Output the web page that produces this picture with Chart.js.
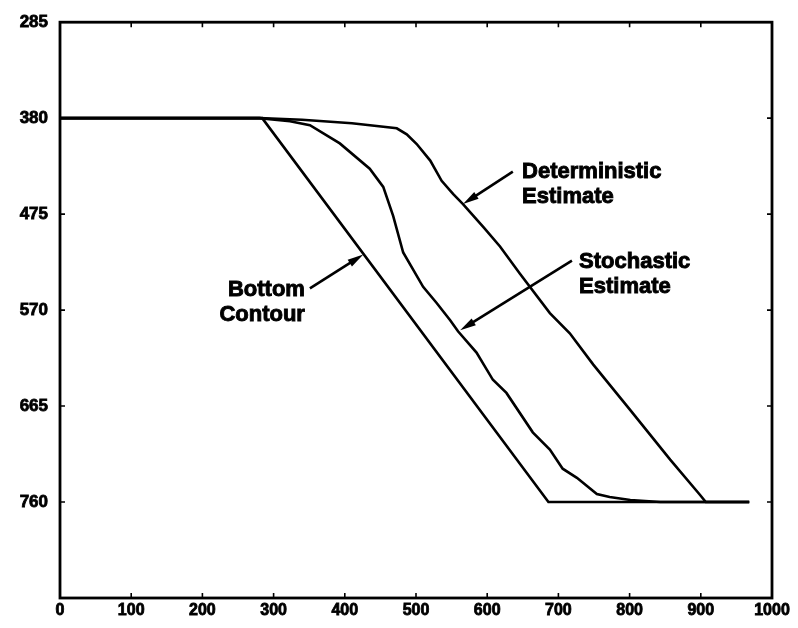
<!DOCTYPE html>
<html>
<head>
<meta charset="utf-8">
<script src="https://cdn.jsdelivr.net/npm/chart.js@4.4.1/dist/chart.umd.min.js"></script>
<style>
  html, body { margin: 0; padding: 0; background: #fff; }
  canvas { display: block; }
</style>
</head>
<body>
<canvas id="c" width="798" height="628"></canvas>
<script>
// Axis ticks
const xTickValues = [0, 100, 200, 300, 400, 500, 600, 700, 800, 900, 1000];
const yTickValues = [285, 380, 475, 570, 665, 760, 855];
const yTickLabels = ['285', '380', '475', '570', '665', '760', ''];

// Bottom contour
const bottomX = [0, 284, 686, 968];
const bottomY = [380, 380, 760, 760];

// Deterministic estimate
const detX = [0, 280, 340, 410, 473, 487, 501, 520, 536, 552, 566, 595, 618, 646, 688, 716, 749, 801, 857, 899, 907, 968];
const detY = [380, 380, 381.5, 385, 390, 396, 405.6, 422, 442, 455, 465, 488, 507, 534, 573, 593, 624, 669, 718, 753, 760, 760];

// Stochastic estimate
const stoX = [0, 280, 323, 351, 393, 435, 454, 468, 482, 510, 529, 548, 559, 585, 608, 627, 664, 688, 706, 726, 754, 772, 801, 843, 968];
const stoY = [380, 380, 383, 387, 405, 430, 448, 477, 513, 547, 563, 580, 591, 612, 639, 652, 691, 708, 727, 736, 752, 755, 758, 760, 760];

// Callouts (data coordinates)
const noteLines = [['Deterministic', 'Estimate'], ['Stochastic', 'Estimate'], ['Bottom', 'Contour']];
const noteX = [649, 729, 344];
const noteY = [433, 522, 550];
const noteAlign = ['left', 'left', 'right'];
const arrowFromX = [636, 719, 351];
const arrowFromY = [433, 521, 548.5];
const arrowToX = [566, 562, 426];
const arrowToY = [465, 590, 515];

const FONT = '"Liberation Sans", Arial, Helvetica, sans-serif';

function pts(xs, ys) {
    return xs.map((x, i) => ({ x: x, y: ys[i] }));
}

function lineSet(label, xs, ys) {
    return {
        label: label,
        data: pts(xs, ys),
        borderColor: '#000',
        borderWidth: 2.6,
        pointRadius: 0,
        tension: 0,
        showLine: true,
        fill: false
    };
}

function drawArrow(ctx, x1, y1, x2, y2) {
    const ang = Math.atan2(y2 - y1, x2 - x1);
    const len = 16, half = 4;
    ctx.beginPath();
    ctx.moveTo(x1, y1);
    ctx.lineTo(x2 - Math.cos(ang) * len * 0.6, y2 - Math.sin(ang) * len * 0.6);
    ctx.stroke();
    ctx.beginPath();
    ctx.moveTo(x2, y2);
    ctx.lineTo(x2 - Math.cos(ang) * len + Math.sin(ang) * half, y2 - Math.sin(ang) * len - Math.cos(ang) * half);
    ctx.lineTo(x2 - Math.cos(ang) * len - Math.sin(ang) * half, y2 - Math.sin(ang) * len + Math.cos(ang) * half);
    ctx.closePath();
    ctx.fill();
}

// frame, inward ticks and callouts
const framePlugin = {
    id: 'frame',
    afterDraw(chart) {
        const { ctx, chartArea: a, scales: { x, y } } = chart;
        ctx.save();
        ctx.strokeStyle = '#000';
        ctx.fillStyle = '#000';
        ctx.lineWidth = 2.8;
        ctx.strokeRect(a.left, a.top, a.right - a.left, a.bottom - a.top);

        ctx.lineWidth = 1.6;
        ctx.beginPath();
        xTickValues.slice(1, -1).forEach(v => {
            const px = x.getPixelForValue(v);
            ctx.moveTo(px, a.bottom); ctx.lineTo(px, a.bottom - 5);
            ctx.moveTo(px, a.top); ctx.lineTo(px, a.top + 5);
        });
        yTickValues.slice(1, -1).forEach(v => {
            const py = y.getPixelForValue(v);
            ctx.moveTo(a.left, py); ctx.lineTo(a.left + 5, py);
            ctx.moveTo(a.right, py); ctx.lineTo(a.right - 5, py);
        });
        ctx.stroke();

        for (let i = 0; i < noteLines.length; i++) {
            ctx.lineWidth = 2.6;
            drawArrow(ctx,
                x.getPixelForValue(arrowFromX[i]), y.getPixelForValue(arrowFromY[i]),
                x.getPixelForValue(arrowToX[i]), y.getPixelForValue(arrowToY[i]));
            ctx.font = 'bold 22px ' + FONT;
            ctx.textAlign = noteAlign[i];
            ctx.textBaseline = 'middle';
            ctx.lineWidth = 0.9;
            const tx = x.getPixelForValue(noteX[i]);
            const ty = y.getPixelForValue(noteY[i]);
            noteLines[i].forEach((t, k) => {
                ctx.fillText(t, tx, ty + k * 25);
                ctx.strokeText(t, tx, ty + k * 25);
            });
        }
        ctx.restore();
    }
};

new Chart(document.getElementById('c'), {
    type: 'scatter',
    data: {
        datasets: [
            lineSet('Bottom Contour', bottomX, bottomY),
            lineSet('Deterministic Estimate', detX, detY),
            lineSet('Stochastic Estimate', stoX, stoY)
        ]
    },
    options: {
        responsive: false,
        animation: false,
        devicePixelRatio: 1,
        layout: { padding: { top: 18, right: 26, left: 0, bottom: 0 } },
        plugins: {
            legend: { display: false },
            tooltip: { enabled: false }
        },
        scales: {
            x: {
                type: 'linear',
                min: 0,
                max: 1000,
                afterFit: s => { s.height = 30; },
                afterBuildTicks: s => { s.ticks = xTickValues.map(v => ({ value: v })); },
                grid: { display: false, drawTicks: false },
                border: { display: false },
                ticks: {
                    color: '#000',
                    padding: 3,
                    maxRotation: 0,
                    textStrokeColor: '#000',
                    textStrokeWidth: 0.8,
                    font: { family: FONT, size: 16, weight: 'bold' },
                    callback: v => String(v)
                }
            },
            y: {
                type: 'linear',
                reverse: true,
                min: 285,
                max: 855,
                afterFit: s => { s.width = 60; },
                afterBuildTicks: s => { s.ticks = yTickValues.map(v => ({ value: v })); },
                grid: { display: false, drawTicks: false },
                border: { display: false },
                ticks: {
                    color: '#000',
                    padding: 12,
                    textStrokeColor: '#000',
                    textStrokeWidth: 0.8,
                    font: { family: FONT, size: 17, weight: 'bold' },
                    callback: v => yTickLabels[yTickValues.indexOf(v)]
                }
            }
        }
    },
    plugins: [framePlugin]
});
</script>
</body>
</html>
